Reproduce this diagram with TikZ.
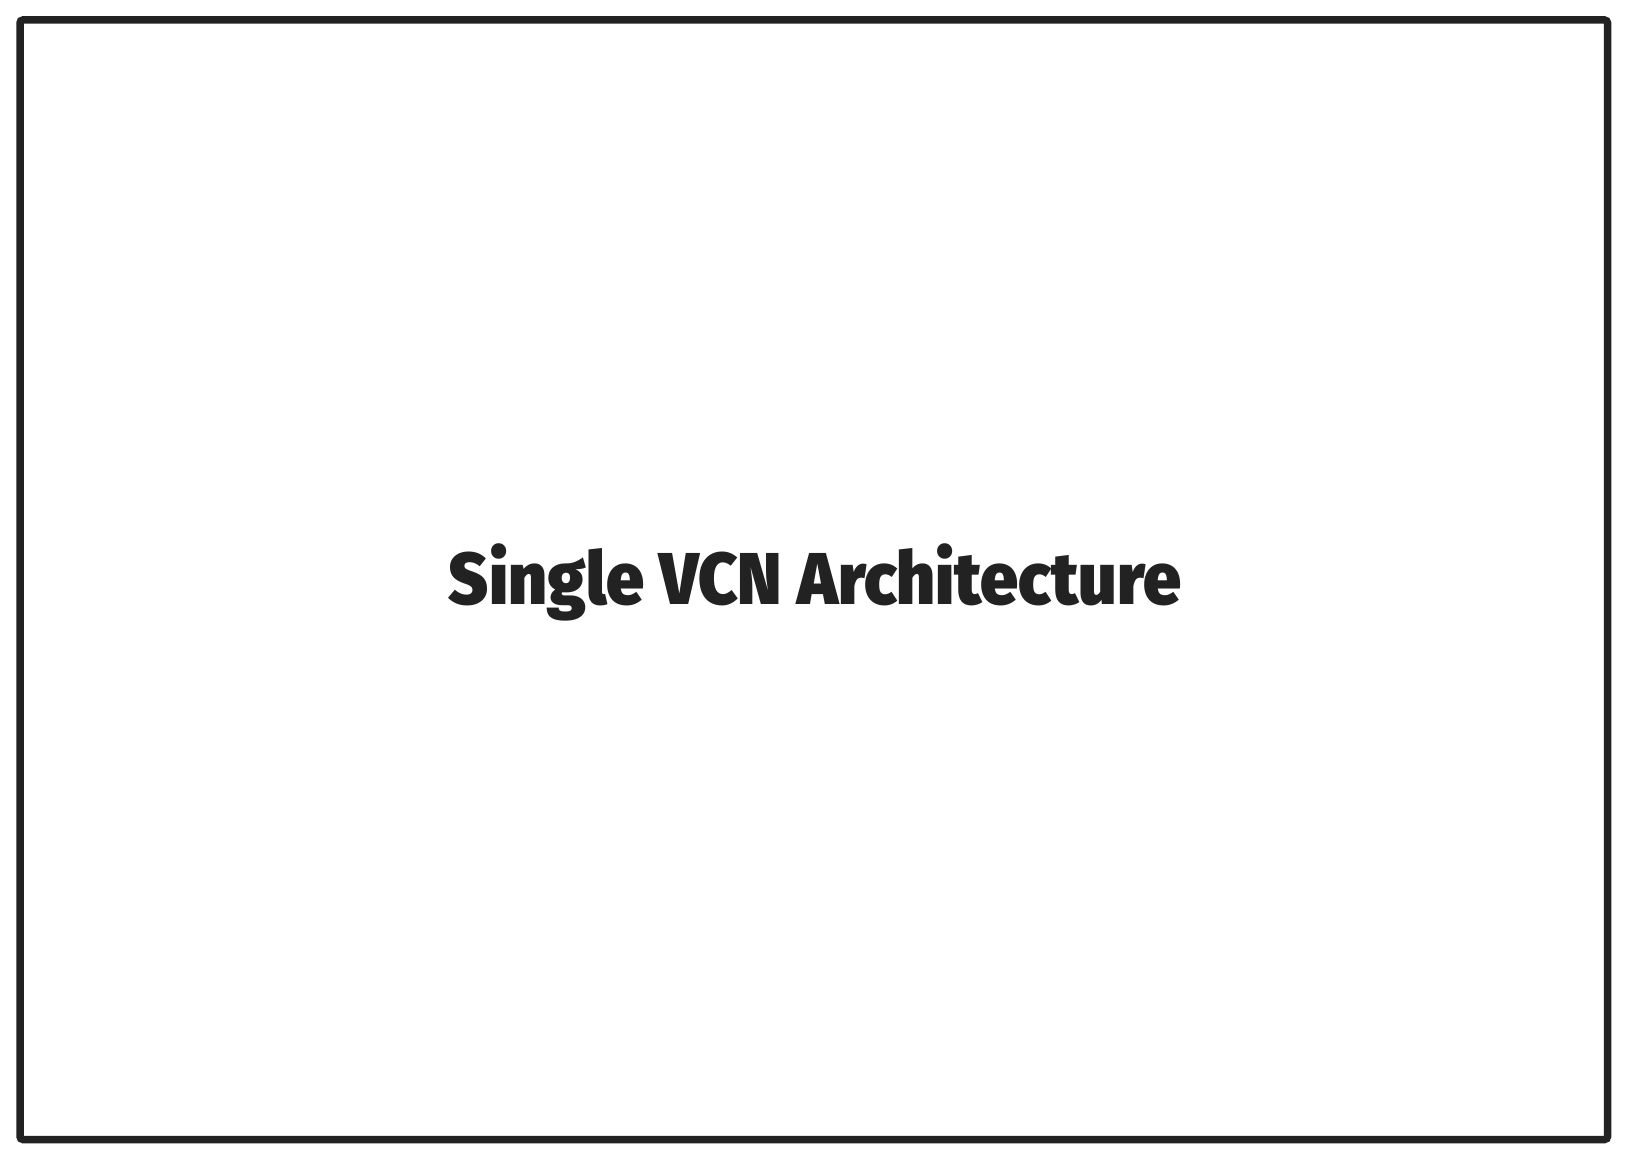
\documentclass[tikz,border=0pt]{standalone}
\usepackage{fontspec}
\usepackage{graphicx}
\newfontfamily\titlefont{Fira Sans Black}
\definecolor{ink}{HTML}{222222}
\tikzset{
  frame/.style={draw=ink, line width=3.75pt, rounded corners=1.5pt},
  titletext/.style={text=ink, inner sep=0pt, anchor=base}
}
\begin{document}
\begin{tikzpicture}[x=0.5pt,y=-0.5pt]
  \useasboundingbox (0,0) rectangle (1627,1160);
  \fill[white] (0,0) rectangle (1627,1160);
  \draw[frame] (20,20) rectangle (1607.5,1139.5);
  \node[titletext] (title) at (815,604)
    {\resizebox{366pt}{30.4pt}{\titlefont Single VCN Architecture}};
\end{tikzpicture}
\end{document}
